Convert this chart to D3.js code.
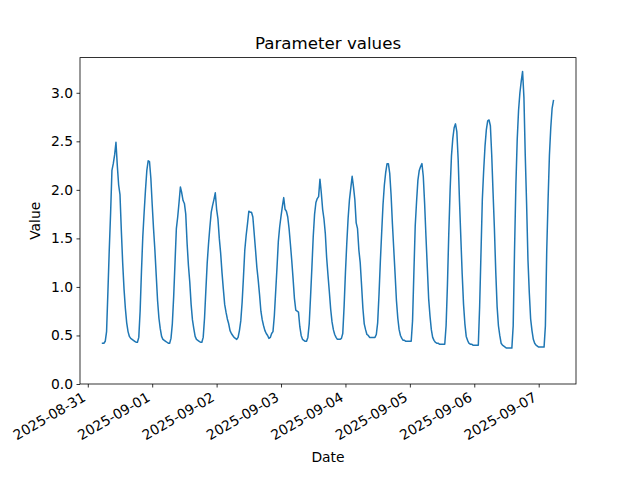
<!DOCTYPE html>
<html><head><meta charset="utf-8">
<script src="https://cdn.jsdelivr.net/npm/d3@7"></script>
<style>
body{margin:0;background:#fff}
svg{display:block}
text{font-family:"DejaVu Sans",sans-serif;fill:#000}
</style>
</head><body>
<svg id="chart" width="640" height="480"></svg>
<script>
// ---- data ----
const chartTitle = "Parameter values";
const xAxisLabel = "Date";
const yAxisLabel = "Value";
const seriesStart = "2025-08-31T05:30:00Z";   // first sample
const stepMinutes = 30;                        // one sample every 30 minutes
const values = [
  // 08-31 05:30 ..
  0.42,0.42, 0.44,0.54, 0.95,1.38, 1.76,2.20, 2.27,2.36, 2.49,2.25, 2.05,1.95, 1.58,1.25, 0.98,0.78, 0.63,0.54, 0.49,0.47, 0.46,0.45,
  0.44,0.43, 0.43,0.48, 0.75,1.16, 1.52,1.77, 2.00,2.20, 2.30,2.29, 2.12,1.85, 1.60,1.38, 1.12,0.86, 0.68,0.57, 0.49,0.46, 0.45,0.44,
  // 09-01 05:30 ..
  0.43,0.42, 0.42,0.47, 0.62,0.90, 1.25,1.60, 1.72,1.87, 2.03,1.97, 1.89,1.86, 1.75,1.45, 1.22,1.05, 0.82,0.66, 0.57,0.49, 0.46,0.45,
  0.44,0.43, 0.43,0.48, 0.68,0.97, 1.25,1.45, 1.62,1.77, 1.84,1.90, 1.97,1.80, 1.70,1.50, 1.35,1.15, 0.98,0.82, 0.74,0.67, 0.62,0.55,
  // 09-02 05:30 ..
  0.52,0.50, 0.48,0.47, 0.46,0.48, 0.55,0.65, 0.84,1.10, 1.38,1.53, 1.65,1.78, 1.77,1.77, 1.72,1.55, 1.38,1.20, 1.07,0.92, 0.75,0.66,
  0.60,0.55, 0.52,0.50, 0.47,0.48, 0.52,0.54, 0.70,0.95, 1.20,1.47, 1.62,1.73, 1.83,1.92, 1.80,1.78, 1.72,1.60, 1.44,1.27, 1.08,0.88,
  // 09-03 05:30 ..
  0.76,0.75, 0.74,0.59, 0.50,0.46, 0.45,0.44, 0.44,0.48, 0.62,0.90, 1.20,1.52, 1.75,1.87, 1.91,1.93, 2.11,1.97, 1.80,1.70, 1.55,1.30,
  1.12,0.95, 0.77,0.64, 0.56,0.51, 0.48,0.46, 0.46,0.46, 0.47,0.52, 0.80,1.15, 1.45,1.71, 1.90,2.02, 2.14,2.03, 1.90,1.66, 1.60,1.38,
  // 09-04 05:30 ..
  1.25,1.02, 0.78,0.62, 0.56,0.51, 0.50,0.48, 0.48,0.48, 0.48,0.48, 0.51,0.63, 0.92,1.26, 1.56,1.85, 2.05,2.18, 2.27,2.27, 2.17,1.95,
  1.65,1.39, 1.13,0.86, 0.68,0.56, 0.50,0.47, 0.45,0.45, 0.44,0.44, 0.44,0.44, 0.44,0.65, 1.15,1.63, 1.88,2.10, 2.20,2.24, 2.27,2.14,
  // 09-05 05:30 ..
  1.86,1.52, 1.20,0.88, 0.70,0.56, 0.48,0.45, 0.43,0.42, 0.42,0.41, 0.41,0.41, 0.41,0.41, 0.60,1.02, 1.55,2.00, 2.35,2.53, 2.64,2.68,
  2.60,2.31, 1.88,1.50, 1.13,0.82, 0.62,0.49, 0.45,0.42, 0.41,0.41, 0.40,0.40, 0.40,0.40, 0.40,0.80, 1.35,1.90, 2.20,2.45, 2.62,2.71,
  // 09-06 05:30 ..
  2.72,2.66, 2.36,1.97, 1.60,1.16, 0.80,0.60, 0.50,0.42, 0.40,0.39, 0.38,0.37, 0.37,0.37, 0.37,0.37, 0.60,1.38, 2.05,2.52, 2.82,3.00,
  3.12,3.22, 2.95,2.35, 1.85,1.28, 0.94,0.67, 0.55,0.46, 0.42,0.40, 0.39,0.38, 0.38,0.38, 0.38,0.38, 0.60,1.38, 1.90,2.36, 2.64,2.84,
  // 09-07 05:30
  2.92
];
const xTickLabels = ["2025-08-31","2025-09-01","2025-09-02","2025-09-03","2025-09-04","2025-09-05","2025-09-06","2025-09-07"];
const yTickValues = [0, 0.5, 1.0, 1.5, 2.0, 2.5, 3.0];

// ---- layout ----
const axL = 80, axR = 576, axT = 57.6, axB = 384;
const fs = 13.89;
const lineColor = "#1f77b4";

const t0 = new Date(seriesStart).getTime();
const data = values.map((v, i) => ({t: new Date(t0 + i * stepMinutes * 60e3), v}));

const tMin = data[0].t.getTime(), tMax = data[data.length - 1].t.getTime();
const tPad = (tMax - tMin) * 0.05;
const x = d3.scaleUtc().domain([new Date(tMin - tPad), new Date(tMax + tPad)]).range([axL, axR]);
const vMin = d3.min(values), vMax = d3.max(values);
const y = d3.scaleLinear().domain([0, vMax + 0.05 * (vMax - vMin)]).range([axB, axT]);

const svg = d3.select("#chart");
svg.append("rect").attr("width", 640).attr("height", 480).attr("fill", "#fff");

svg.append("clipPath").attr("id", "clip").append("rect")
  .attr("x", axL).attr("y", axT).attr("width", axR - axL).attr("height", axB - axT);

// line
svg.append("path").datum(data)
  .attr("clip-path", "url(#clip)")
  .attr("fill", "none").attr("stroke", lineColor).attr("stroke-width", 1.5)
  .attr("stroke-linejoin", "round").attr("stroke-linecap", "square")
  .attr("d", d3.line().x(d => x(d.t)).y(d => y(d.v)));

// y axis
const yAxis = svg.append("g").attr("transform", `translate(${axL},0)`)
  .call(d3.axisLeft(y).tickValues(yTickValues).tickFormat(d3.format(".1f")).tickSize(3.5).tickPadding(3.5));
yAxis.select(".domain").remove();
yAxis.selectAll(".tick line").attr("stroke", "#000").attr("stroke-width", 0.8);
yAxis.selectAll(".tick text").attr("font-size", fs).attr("font-family", "DejaVu Sans").attr("fill", "#000");

// x axis
const xTickDates = xTickLabels.map(s => new Date(s + "T00:00:00Z"));
const xAxis = svg.append("g").attr("transform", `translate(0,${axB})`)
  .call(d3.axisBottom(x).tickValues(xTickDates).tickFormat((d, i) => xTickLabels[i]).tickSize(3.5).tickPadding(3.5));
xAxis.select(".domain").remove();
xAxis.selectAll(".tick line").attr("stroke", "#000").attr("stroke-width", 0.8);
const desc = fs * 0.236, asc = fs * 0.76;
xAxis.selectAll(".tick text")
  .attr("font-size", fs).attr("font-family", "DejaVu Sans").attr("fill", "#000")
  .attr("text-anchor", "end")
  .attr("dy", null)
  .attr("y", null)
  .attr("transform", `translate(${-0.5 * desc},${7 + 0.866 * asc}) rotate(-30)`);

// spines
svg.append("rect").attr("x", axL).attr("y", axT).attr("width", axR - axL).attr("height", axB - axT)
  .attr("fill", "none").attr("stroke", "#000").attr("stroke-width", 0.8);

// title and labels
svg.append("text").attr("x", (axL + axR) / 2).attr("y", 49.3).attr("text-anchor", "middle")
  .attr("font-size", 16.67).text(chartTitle);
svg.append("text").attr("x", (axL + axR) / 2).attr("y", 461.5).attr("text-anchor", "middle")
  .attr("font-size", fs).text(xAxisLabel);
svg.append("text").attr("transform", `translate(40,${(axT + axB) / 2}) rotate(-90)`).attr("text-anchor", "middle")
  .attr("font-size", fs).text(yAxisLabel);
</script>
</body></html>
